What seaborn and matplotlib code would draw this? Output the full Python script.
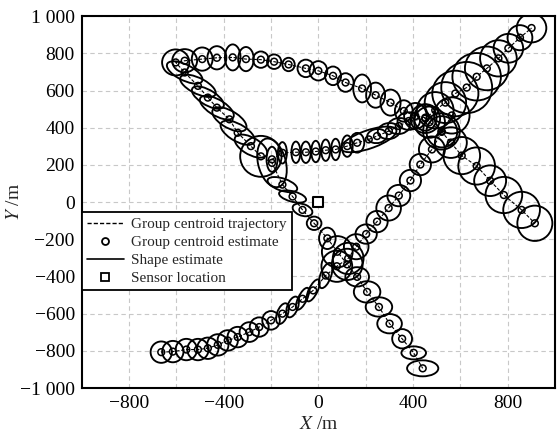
import numpy as np
import pandas as pd
import matplotlib
matplotlib.use("Agg")
import matplotlib.pyplot as plt
import seaborn as sns
from matplotlib.patches import Ellipse
from matplotlib.lines import Line2D
from matplotlib.ticker import FixedLocator, FuncFormatter

# group 1: bottom-left, heading up-right
g1_x = [-664, -615, -558, -509, -467, -425, -383, -341, -292, -250, -200, -152, -109, -67,
        -22, 31, 78, 126, 160, 202, 248, 297, 340, 389, 431, 480, 522, 564]
g1_y = [-807, -804, -793, -793, -786, -768, -744, -726, -699, -672, -636, -600, -564, -520,
        -475, -395, -345, -303, -240, -172, -105, -32, 35, 116, 202, 283, 378, 466]
g1_w = [90, 90, 90, 90, 90, 90, 86, 86, 82, 80, 74, 46, 46, 38,
        38, 46, 130, 130, 104, 90, 90, 104, 97, 90, 90, 110, 130, 150]
g1_h = [115, 115, 115, 115, 115, 115, 110, 110, 106, 104, 100, 115, 115, 125,
        125, 140, 168, 168, 135, 104, 115, 135, 115, 115, 115, 140, 168, 195]
g1_a = [0, 0, 0, 0, 0, 0, 0, 0, 0, 0, 0, -15, -15, -20,
        -20, -15, 0, 0, 0, 0, 0, 0, 0, 0, 0, 0, 0, 0]

# group 2: top-left loop, then down to the bottom
g2_x = [452, 410, 361, 305, 242, 185, 115, 62, 0, -53, -126, -187, -243, -306, -362, -429,
        -491, -565, -603, -565, -509, -467, -429, -376, -341, -285, -243, -196, -152, -109,
        -67, -18, 38, 80, 122, 164, 206, 256, 301, 354, 403, 441]
g2_y = [454, 463, 490, 535, 575, 611, 643, 679, 706, 719, 740, 755, 766, 769, 778, 776,
        769, 760, 751, 697, 625, 562, 508, 445, 373, 301, 246, 211, 94, 30,
        -42, -114, -195, -267, -335, -402, -483, -564, -654, -735, -811, -894]
g2_w = [95, 95, 75, 85, 80, 75, 68, 68, 75, 70, 52, 60, 66, 66, 66, 80,
        88, 105, 115, 175, 175, 165, 175, 175, 175, 165, 175, 118, 135, 120,
        90, 62, 70, 130, 130, 100, 112, 112, 104, 84, 104, 132]
g2_h = [140, 140, 115, 140, 135, 150, 100, 100, 104, 94, 72, 78, 88, 130, 140, 125,
        125, 125, 140, 80, 80, 75, 80, 85, 85, 85, 220, 265, 64, 55,
        60, 72, 115, 168, 168, 104, 115, 104, 104, 104, 70, 86]
g2_a = [0, 0, 0, 0, 0, 0, 0, 0, 0, 0, 0, 0, 0, 0, 0, 0,
        0, 0, 0, -35, -35, -40, -40, -40, -40, -40, 0, 10, -25, -20,
        -30, 0, 0, 0, 0, 0, 0, 0, 0, 0, 0, 0]

# group 3: middle branch, up to the top right
g3_x = [-196, -152, -95, -53, -11, 31, 73, 122, 164, 213, 248, 298, 340, 382,
        452, 494, 537, 579, 627, 669, 712, 761, 803, 852, 901]
g3_y = [230, 265, 268, 268, 272, 279, 283, 301, 319, 337, 355, 382, 409, 436,
        449, 494, 535, 584, 616, 674, 719, 773, 827, 884, 936]
g3_w = [46, 38, 38, 42, 38, 38, 38, 46, 60, 255, 85, 95, 95, 95,
        125, 155, 175, 195, 215, 205, 185, 155, 125, 105, 125]
g3_h = [135, 115, 115, 115, 115, 115, 115, 115, 106, 95, 75, 85, 85, 95,
        155, 195, 220, 245, 275, 255, 235, 195, 155, 135, 155]
g3_a = [0, 0, 0, 0, 0, 0, 0, 0, 0, 25, 20, 20, 20, 20,
        0, 0, 0, 0, 0, 0, 0, 0, 0, 0, 0]

# group 4: down to the right
g4_x = [470, 520, 560, 606, 669, 726, 784, 859, 915]
g4_y = [430, 380, 320, 250, 194, 115, 38, -42, -114]
g4_w = [130, 155, 135, 155, 155, 135, 155, 155, 148]
g4_h = [168, 195, 165, 200, 200, 165, 195, 195, 190]
g4_a = [0, 0, 0, 0, 0, 0, 0, 0, 0]

sensor_x = [0]
sensor_y = [0]

groups = [
    (g1_x, g1_y, g1_w, g1_h, g1_a),
    (g2_x, g2_y, g2_w, g2_h, g2_a),
    (g3_x, g3_y, g3_w, g3_h, g3_a),
    (g4_x, g4_y, g4_w, g4_h, g4_a),
]

sns.set_style("white")
plt.rcParams["font.family"] = ["Liberation Serif", "DejaVu Serif"]
plt.rcParams["mathtext.fontset"] = "stix"

fig = plt.figure(figsize=(5.6, 4.36), dpi=100)
ax = fig.add_axes([0.146, 0.110, 0.845, 0.853])

for gx, gy, gw, gh, ga in groups:
    df = pd.DataFrame({"x": gx, "y": gy})
    sns.lineplot(data=df, x="x", y="y", sort=False, estimator=None, ax=ax,
                 color="black", lw=0.8, linestyle=(0, (3, 1.5)))
    for x, y, w, h, a in zip(gx, gy, gw, gh, ga):
        ax.add_patch(Ellipse((x, y), w, h, angle=a, fill=False,
                             edgecolor="black", lw=1.35))
    sns.scatterplot(data=df, x="x", y="y", ax=ax, marker="o", s=24,
                    facecolor="none", edgecolor="black", linewidth=1.1)

sns.scatterplot(x=sensor_x, y=sensor_y, ax=ax, marker="s", s=42,
                facecolor="white", edgecolor="black", linewidth=1.5, zorder=5)

ax.set_xlim(-1000, 1000)
ax.set_ylim(-1000, 1000)

def fmt(v, pos=None):
    v = int(round(v))
    s = f"{abs(v):,}".replace(",", " ")
    return ("\u2212" + s) if v < 0 else s

xt = list(range(-800, 801, 200))
ax.xaxis.set_major_locator(FixedLocator(xt))
ax.set_xticklabels([fmt(v) if v % 400 == 0 else "" for v in xt])
yt = list(range(-1000, 1001, 200))
ax.yaxis.set_major_locator(FixedLocator(yt))
ax.yaxis.set_major_formatter(FuncFormatter(fmt))
ax.tick_params(direction="in", length=4, width=1.2, labelsize=14, pad=5,
               colors="black")
ax.grid(True, ls=(0, (4, 3)), color="#c8c8c8", lw=0.8)
ax.set_axisbelow(True)
for sp in ax.spines.values():
    sp.set_color("black")
    sp.set_linewidth(1.5)

ax.set_xlabel(r"$X$ /m", fontsize=14)
ax.set_ylabel(r"$Y$ /m", fontsize=14)
ax.xaxis.set_label_coords(0.5, -0.075)
ax.yaxis.set_label_coords(-0.125, 0.5)

handles = [
    Line2D([], [], color="black", lw=1.0, linestyle=(0, (3, 1.5))),
    Line2D([], [], color="black", lw=0, marker="o", markersize=5,
           markerfacecolor="none", markeredgewidth=1.3),
    Line2D([], [], color="black", lw=1.2),
    Line2D([], [], color="black", lw=0, marker="s", markersize=5.5,
           markerfacecolor="none", markeredgewidth=1.3),
]
labels = ["Group centroid trajectory", "Group centroid estimate",
          "Shape estimate", "Sensor location"]
leg = ax.legend(handles, labels, loc="upper left", bbox_to_anchor=(0, 0.473),
                borderaxespad=0, fontsize=11, frameon=True, fancybox=False,
                edgecolor="black", framealpha=1, handlelength=2.4,
                labelspacing=0.28, handletextpad=0.5, borderpad=0.35)
leg.get_frame().set_linewidth(1.3)
leg.set_zorder(10)

fig.savefig("out.png", dpi=100)
